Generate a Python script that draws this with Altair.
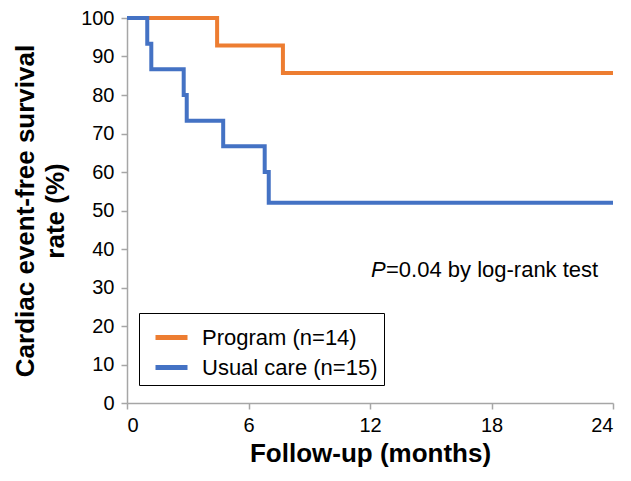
import altair as alt
import pandas as pd

# ---- data ----
series_names = ["Program (n=14)", "Usual care (n=15)"]
series_colors = ["#ED7D31", "#4472C4"]

program_months = [0, 4.45, 7.7, 24]
program_rate = [100, 92.86, 85.71, 85.71]

usual_months = [0, 1.0, 1.2, 2.8, 2.95, 4.75, 6.8, 7.0, 24]
usual_rate = [100, 93.33, 86.67, 80.0, 73.33, 66.67, 60.0, 52.0, 52.0]

x_ticks = [0, 6, 12, 18, 24]
y_ticks = [0, 10, 20, 30, 40, 50, 60, 70, 80, 90, 100]

x_title = "Follow-up (months)"
y_title = ["Cardiac event-free survival", "rate (%)"]

annot_month = [12.05]
annot_rate = [34.5]
annot_p = ["P"]
annot_rest = ["=0.04 by log-rank test"]

FONT = "Liberation Sans"

rows = []
for m, r in zip(program_months, program_rate):
    rows.append({"series": series_names[0], "month": m, "rate": r})
for m, r in zip(usual_months, usual_rate):
    rows.append({"series": series_names[1], "month": m, "rate": r})
df = pd.DataFrame(rows)

ann = pd.DataFrame({"month": annot_month, "rate": annot_rate,
                    "p": annot_p, "rest": annot_rest})

x_enc = alt.X("month:Q",
              scale=alt.Scale(domain=[0, 24], nice=False, zero=False),
              axis=alt.Axis(values=x_ticks, title=x_title, labelPadding=6,
                            titlePadding=5))
y_enc = alt.Y("rate:Q",
              scale=alt.Scale(domain=[0, 100], nice=False, zero=False),
              axis=alt.Axis(values=y_ticks, title=y_title, labelPadding=7,
                            titlePadding=12, titleLineHeight=30))

lines = alt.Chart(df).mark_line(interpolate="step-after", strokeWidth=4).encode(
    x=x_enc,
    y=y_enc,
    color=alt.Color(
        "series:N",
        scale=alt.Scale(domain=series_names, range=series_colors),
        legend=alt.Legend(
            orient="none", legendX=12, legendY=295, title=None,
            symbolType="stroke", symbolStrokeWidth=5, symbolSize=1024,
            labelFontSize=22, labelFont=FONT, labelColor="black",
            labelLimit=400,
            strokeColor="black", fillColor="white", padding=6,
            symbolOffset=8, labelOffset=12, rowPadding=0, cornerRadius=0,
        ),
    ),
)

p_text = alt.Chart(ann).mark_text(
    align="left", baseline="middle", fontSize=22, font=FONT,
    fontStyle="italic", color="black"
).encode(x=x_enc, y=y_enc, text="p:N")

rest_text = alt.Chart(ann).mark_text(
    align="left", baseline="middle", fontSize=22, font=FONT, dx=15,
    color="black"
).encode(x=x_enc, y=y_enc, text="rest:N")

chart = alt.layer(lines, p_text, rest_text).properties(
    width=486, height=385,
    autosize=alt.AutoSizeParams(type="none"),
    padding={"left": 119, "top": 10, "right": 10, "bottom": 69},
).configure_view(stroke=None).configure_axis(
    grid=False,
    domainColor="#A6A6A6", domainWidth=1.5,
    tickColor="#A6A6A6", tickWidth=1.5, tickSize=6,
    labelFont=FONT, labelFontSize=20, labelColor="black",
    titleFont=FONT, titleFontSize=26, titleFontWeight="bold",
    titleColor="black",
)

chart.save("out.html", embed_options={"renderer": "svg", "actions": False})
